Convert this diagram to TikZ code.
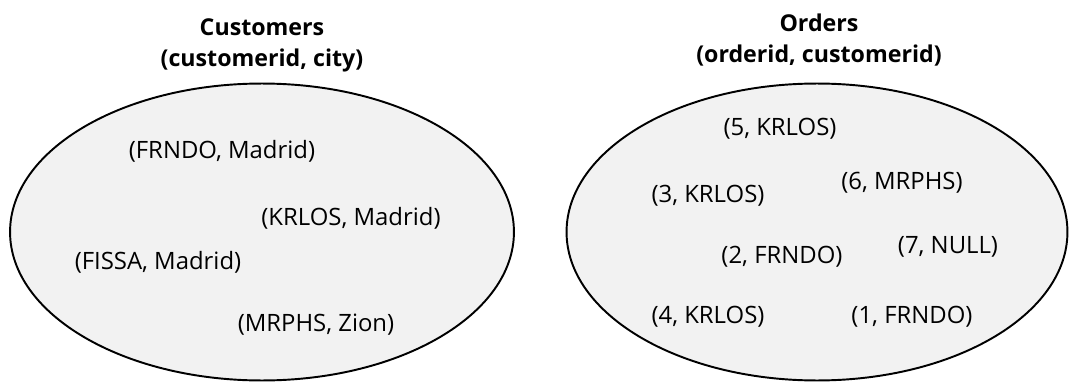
\documentclass[tikz,border=0pt]{standalone}
\usepackage{fontspec}
\setmainfont{Open Sans}
\usetikzlibrary{shapes.geometric}
\begin{document}
\begin{tikzpicture}[x=0.02cm,y=-0.02cm,
		set/.style={ellipse,draw,line width=1.1pt,fill=black!5,minimum width=10.08cm,minimum height=5.94cm},
		title/.style={font=\bfseries\fontsize{13.2}{17.6}\selectfont,align=center},
		row/.style={font=\fontsize{13.6}{15}\selectfont}]
		\useasboundingbox (0,0) rectangle (1080,382);
		% the two sets
		\node[set] (cust) at (262,232) {};
		\node[set,minimum width=10.02cm] (ord) at (817,232) {};
		\node[title] (custname) at (262,45) {Customers\\(customerid, city)};
		\node[title] (ordname) at (819,40) {Orders\\(orderid, customerid)};
		% customers
		\node[row] (c1) at (222,151) {(FRNDO, Madrid)};
		\node[row] (c2) at (351,218) {(KRLOS, Madrid)};
		\node[row] (c3) at (158,262) {(FISSA, Madrid)};
		\node[row] (c4) at (316,325) {(MRPHS, Zion)};
		% orders
		\node[row] (o5) at (780,129) {(5, KRLOS)};
		\node[row] (o3) at (708,196) {(3, KRLOS)};
		\node[row] (o6) at (902,183) {(6, MRPHS)};
		\node[row] (o2) at (782,257) {(2, FRNDO)};
		\node[row] (o7) at (948,247) {(7, NULL)};
		\node[row] (o4) at (708,317) {(4, KRLOS)};
		\node[row] (o1) at (912,317) {(1, FRNDO)};
	\end{tikzpicture}
\end{document}
